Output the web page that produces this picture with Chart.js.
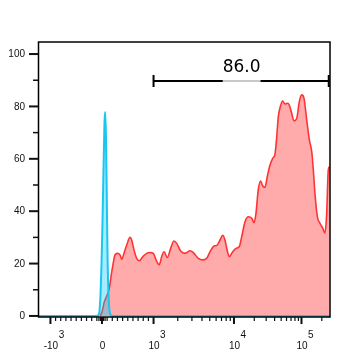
<!DOCTYPE html>
<html>
<head>
<meta charset="utf-8">
<script src="https://cdn.jsdelivr.net/npm/chart.js@4/dist/chart.umd.min.js"></script>
<style>
html,body{margin:0;padding:0;background:#fff;}
canvas{display:block;}
</style>
</head>
<body>
<canvas id="c" width="358" height="363"></canvas>
<script>
// ---- Data (x in display channels 0..256, y in % of max) ----
const controlX = [0, 51.7, 53.0, 53.8, 54.8, 55.7, 56.5, 57.4, 58.3, 58.9, 59.6, 60.3, 61.0, 61.9, 63.1, 64.9, 256];
const controlY = [0, 0, 0.5, 1.5, 8, 20, 35, 55, 74, 77.9, 68, 45, 22, 7, 1, 0, 0];

const sampleX = [54.4, 56.1, 57.9, 60.1, 62.5, 64.0, 65.5, 67.5, 69.5, 71.9, 73.4, 75.4, 77.8, 80.7, 82.1, 84.2, 86.5, 88.8, 91.8, 95.3,
  98.2, 101.1, 103.5, 106.3, 108.4, 110.5, 113.4, 116.3, 119.2, 121.6, 125.1, 128.9, 133.3, 136.2, 140.5, 144.4, 147.9, 150.8, 153.7, 157.2,
  159.6, 161.9, 163.9, 166.0, 167.7, 170.7, 173.6, 176.5, 178.6, 181.5, 184.4, 187.4, 189.4, 191.1, 193.1, 195.2, 197.0, 199.0, 201.0, 203.4,
  205.8, 207.8, 209.3, 210.7, 212.8, 214.5, 216.5, 218.6, 220.3, 222.4, 224.4, 226.8, 229.1, 231.2, 233.2, 235.6, 237.9, 240.0, 241.4, 242.8,
  244.9, 247.2, 249.6, 251.6, 253.1, 254.5, 255.6];
const sampleY = [0, 1.5, 5, 7.5, 10.5, 15, 19, 23.3, 23.9, 23.3, 21.6, 23.9, 27.1, 30.0, 29, 25.2, 22, 21.1, 22.6, 23.9,
  24.2, 23.9, 21.4, 19.5, 22.6, 24.5, 22.3, 25.8, 28.6, 27.7, 24.8, 23.9, 24.9, 24.2, 22.0, 21.4, 22.0, 24.5, 26.5, 27.1,
  29.0, 30.8, 29.0, 24.8, 22.6, 24.5, 25.8, 26.5, 30.3, 36.0, 37.9, 37.3, 35.6, 39.2, 48.1, 51.5, 49.6, 49.1, 53.2, 57.6,
  60.2, 61.8, 68.4, 76.1, 80.5, 82.1, 80.9, 81.2, 80.5, 77.4, 74.5, 75.4, 81.8, 84.4, 83.1, 74.8, 67.2, 62.7, 55.7, 46.8,
  37.9, 35.4, 33.5, 31.6, 39.2, 55.7, 57];

// axis tick labels (raw fluorescence values)
const xTickValues = [-1000, 0, 1000, 10000, 100000];
const xTickBase = ['-10', '0', '10', '10', '10'];
const xTickExp = ['3', '', '3', '4', '5'];
const xMinorValues = [-900,-800,-700,-600,-500,-400,-300,-200,-100,-60,-30,30,60,100,200,300,400,500,600,700,800,900,
  2000,3000,4000,5000,6000,7000,8000,9000,20000,30000,40000,50000,60000,70000,80000,90000,200000];
const yTickValues = [0, 20, 40, 60, 80, 100];
const yMinorValues = [10, 30, 50, 70, 90];

// gate
const gateFrom = 1000;      // raw value
const gateTo = 262144;      // raw value (axis max)
const gateLevel = 89.7;     // y position in % units
const gateLabel = '86.0';

// display transform raw -> channel (biexponential axis)
function toChannel(v) {
  if (v >= -1000 && v <= 1000) return 56.1 + v * 0.0452;
  if (v > 1000 && v <= 10000) return 101.3 + 70.5 * Math.log10(v / 1000);
  return 171.8 + 59.2 * Math.log10(v / 10000);
}

const pts = (xs, ys) => xs.map((x, i) => ({x: x, y: ys[i]}));

const decor = {
  id: 'decor',
  afterDraw(chart) {
    const ctx = chart.ctx, xs = chart.scales.x, ys = chart.scales.y, a = chart.chartArea;
    ctx.save();
    // frame
    ctx.strokeStyle = '#000';
    ctx.lineWidth = 1.5;
    ctx.strokeRect(a.left + 0.5, a.top, a.right - a.left - 0.5, a.bottom - a.top);
    // y ticks
    ctx.fillStyle = '#111';
    ctx.font = '10px "Liberation Sans", Arial, sans-serif';
    ctx.textAlign = 'right';
    ctx.textBaseline = 'middle';
    yTickValues.forEach(v => {
      const p = ys.getPixelForValue(v);
      ctx.fillRect(a.left - 9, p - 1, 9, 2);
      ctx.fillText(String(v), a.left - 13, p + 0.5);
    });
    yMinorValues.forEach(v => {
      const p = ys.getPixelForValue(v);
      ctx.fillRect(a.left - 5, p - 0.75, 5, 1.5);
    });
    // x ticks
    const b = a.bottom;
    xTickValues.forEach((v, i) => {
      const p = xs.getPixelForValue(toChannel(v));
      ctx.fillRect(p - 1, b, 2, 7);
      ctx.textAlign = 'center';
      ctx.textBaseline = 'alphabetic';
      ctx.font = '10px "Liberation Sans", Arial, sans-serif';
      ctx.fillText(xTickBase[i], p + 0.5, 349);
      if (xTickExp[i]) {
        const w = ctx.measureText(xTickBase[i]).width;
        ctx.textAlign = 'left';
        ctx.fillText(xTickExp[i], p + 0.5 + w / 2 + 0.5, 338);
      }
    });
    xMinorValues.forEach(v => {
      const p = xs.getPixelForValue(toChannel(v));
      ctx.fillRect(p - 0.6, b, 1.2, 4);
    });
    // gate
    const gx1 = xs.getPixelForValue(toChannel(gateFrom));
    const gx2 = xs.getPixelForValue(toChannel(gateTo));
    const gy = ys.getPixelForValue(gateLevel);
    ctx.strokeStyle = '#000';
    ctx.lineWidth = 2;
    ctx.beginPath();
    ctx.moveTo(gx1, gy); ctx.lineTo(gx2, gy);
    ctx.stroke();
    ctx.beginPath();
    ctx.moveTo(gx1, gy - 6); ctx.lineTo(gx1, gy + 6);
    ctx.moveTo(gx2 - 1, gy - 6); ctx.lineTo(gx2 - 1, gy + 6);
    ctx.stroke();
    ctx.font = '17px "DejaVu Sans", sans-serif';
    const tw = ctx.measureText(gateLabel).width;
    const cx = (gx1 + gx2) / 2;
    ctx.strokeStyle = '#c8c8c8';
    ctx.beginPath();
    ctx.moveTo(cx - tw / 2, gy); ctx.lineTo(cx + tw / 2, gy);
    ctx.stroke();
    ctx.fillStyle = '#000';
    ctx.textAlign = 'center';
    ctx.textBaseline = 'alphabetic';
    ctx.fillText(gateLabel, cx, gy - 9);
    ctx.restore();
  }
};

new Chart(document.getElementById('c'), {
  type: 'line',
  data: {
    datasets: [
      {
        label: 'Control',
        data: pts(controlX, controlY),
        borderColor: '#18c6f2',
        backgroundColor: 'rgba(0,200,255,0.35)',
        borderWidth: 2,
        fill: 'origin',
        pointRadius: 0,
        cubicInterpolationMode: 'monotone',
        order: 0
      },
      {
        label: 'Sample',
        data: pts(sampleX, sampleY),
        borderColor: '#ff3333',
        backgroundColor: 'rgba(255,0,0,0.33)',
        borderWidth: 1.6,
        fill: 'origin',
        pointRadius: 0,
        cubicInterpolationMode: 'monotone',
        order: 1
      }
    ]
  },
  options: {
    responsive: false,
    devicePixelRatio: 1,
    animation: false,
    layout: {padding: {left: 38, right: 28, top: 42, bottom: 46}},
    plugins: {legend: {display: false}, tooltip: {enabled: false}},
    scales: {
      x: {type: 'linear', min: 0, max: 256, display: false},
      y: {type: 'linear', min: -0.4, max: 104.6, display: false}
    }
  },
  plugins: [decor]
});
</script>
</body>
</html>
